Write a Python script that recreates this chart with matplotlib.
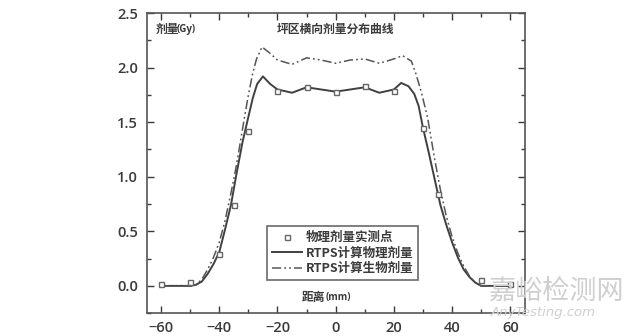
import matplotlib
matplotlib.use("Agg")
import matplotlib.pyplot as plt
from matplotlib.ticker import MultipleLocator

plt.rcParams['font.family'] = ['Open Sans', 'Noto Sans CJK SC', 'DejaVu Sans']

# measured physical dose points (mm, Gy)
meas_x = [-60, -50, -40, -35, -30, -20, -10, 0, 10, 20, 30, 35, 50, 60]
meas_y = [0.02, 0.04, 0.29, 0.74, 1.42, 1.79, 1.82, 1.78, 1.83, 1.79, 1.45, 0.84, 0.05, 0.02]

# RTPS physical dose
phys_x = [-60, -50, -48, -46, -44, -42, -40, -38, -36, -34, -32, -30, -28.5, -27, -25,
          -22.5, -20, -15, -10, -5, 0, 5, 10, 15, 20, 22.5, 25, 27, 28.5, 30, 32, 34,
          36, 38, 40, 42, 44, 46, 48, 50, 60]
phys_y = [0, 0, 0.01, 0.04, 0.11, 0.20, 0.31, 0.52, 0.74, 1.04, 1.32, 1.55, 1.72, 1.85, 1.92,
          1.85, 1.80, 1.77, 1.82, 1.80, 1.78, 1.80, 1.82, 1.77, 1.80, 1.86, 1.83, 1.76, 1.65,
          1.45, 1.22, 0.98, 0.74, 0.56, 0.40, 0.26, 0.15, 0.08, 0.03, 0.0, 0.0]

# RTPS biological dose
bio_x = [-60, -50, -48, -46, -44, -42, -40, -38, -36, -34.5, -33, -31.5, -30, -28.5, -27.2,
         -25.3, -22.5, -20, -15, -10, -5, 0, 5, 10, 15, 20, 23, 26, 27.5, 29.4, 31.6, 33.9,
         36, 38, 40, 42, 44, 46, 48, 50, 60]
bio_y = [0, 0, 0.01, 0.06, 0.15, 0.26, 0.40, 0.60, 0.85, 1.05, 1.28, 1.52, 1.75, 1.95, 2.08,
         2.19, 2.13, 2.07, 2.03, 2.09, 2.07, 2.04, 2.07, 2.08, 2.04, 2.08, 2.11, 2.06, 1.95,
         1.78, 1.54, 1.18, 0.88, 0.64, 0.45, 0.30, 0.18, 0.09, 0.03, 0.0, 0.0]

dark = '#3a3a3a'
cjk = ['Noto Sans CJK SC', 'DejaVu Sans']

fig = plt.figure(figsize=(6.4, 3.36), dpi=100)
ax = fig.add_axes([0.229, 0.068, 0.591, 0.893])

ax.plot(meas_x, meas_y, 's', ms=3.6, mfc='white', mec='#666666', mew=1.0,
        label='物理剂量实测点', zorder=3)
ax.plot(phys_x, phys_y, '-', color='#404040', lw=1.4, label='RTPS计算物理剂量')
ax.plot(bio_x, bio_y, color='#555555', lw=1.1, ls=(0, (6, 2, 1.2, 2, 1.2, 2)),
        label='RTPS计算生物剂量')

ax.set_xlim(-65, 65)
ax.set_ylim(-0.25, 2.5)
ax.xaxis.set_major_locator(MultipleLocator(20))
ax.xaxis.set_minor_locator(MultipleLocator(10))
ax.yaxis.set_major_locator(MultipleLocator(0.5))
ax.yaxis.set_minor_locator(MultipleLocator(0.25))
ax.yaxis.set_major_formatter(plt.FormatStrFormatter('%.1f'))
ax.tick_params(which='both', direction='in', top=True, right=True, color=dark, width=1.0)
ax.tick_params(which='major', length=5, labelsize=10.5, labelcolor=dark, pad=6)
ax.tick_params(which='minor', length=3)
for lbl in ax.get_xticklabels() + ax.get_yticklabels():
    lbl.set_fontweight('semibold')
for sp in ax.spines.values():
    sp.set_color('#555555')
    sp.set_linewidth(1.2)

ax.text(-62, 2.35, '剂量', family=cjk, fontsize=8.5, fontweight='bold', color=dark, va='center')
ax.text(-54.5, 2.35, '(Gy)', fontsize=7, fontweight='bold', color=dark, va='center')
ax.text(0, 2.35, '坪区横向剂量分布曲线', family=cjk, fontsize=8.5, fontweight='bold',
        color=dark, ha='center', va='center')
ax.text(-3.5, -0.11, '距离', family=cjk, fontsize=8.5, fontweight='bold', color=dark,
        ha='right', va='center')
ax.text(-3.3, -0.11, '(mm)', fontsize=7, fontweight='bold', color=dark, ha='left', va='center')

leg = ax.legend(loc='upper left', bbox_to_anchor=(0.318, 0.29), frameon=True, fancybox=False,
                edgecolor='#444444', handlelength=2.4, handletextpad=0.3, borderpad=0.4,
                labelspacing=0.2, prop={'family': cjk, 'size': 9, 'weight': 'bold'},
                borderaxespad=0)
leg.get_frame().set_linewidth(1.2)
for t in leg.get_texts():
    t.set_color(dark)

# site watermark
fig.text(489 / 640, 1 - 278 / 336, '嘉峪检测网', family=cjk, fontsize=19.5, color='#cfcfcf',
         va='top', ha='left')
fig.text(491 / 640, 1 - 306 / 336, 'AnyTesting.com', fontsize=9.5, style='italic',
         color='#cfcfcf', va='top', ha='left', family=['DejaVu Sans'])

fig.savefig('out.png', dpi=100)
